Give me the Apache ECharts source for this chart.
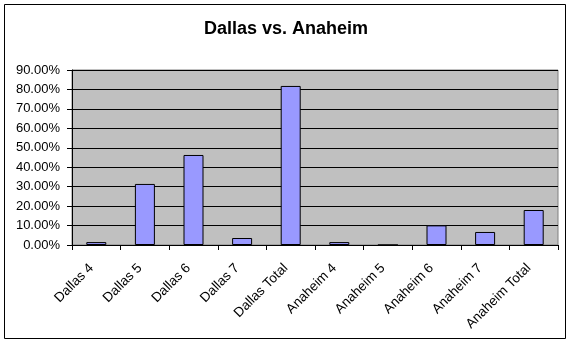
<!DOCTYPE html>
<html><head><meta charset="utf-8">
<script src="https://cdn.jsdelivr.net/npm/echarts@6/dist/echarts.min.js"></script>
<style>html,body{margin:0;padding:0;background:#fff}#c{width:572px;height:344px}</style>
</head><body><div id="c"></div>
<script>
const title = 'Dallas vs. Anaheim';
const categories = ['Dallas 4','Dallas 5','Dallas 6','Dallas 7','Dallas Total','Anaheim 4','Anaheim 5','Anaheim 6','Anaheim 7','Anaheim Total'];
const values = [0.015, 0.314, 0.463, 0.036, 0.818, 0.015, 0, 0.101, 0.067, 0.180];
const yTicks = [0, 0.1, 0.2, 0.3, 0.4, 0.5, 0.6, 0.7, 0.8, 0.9];

const chart = echarts.init(document.getElementById('c'), null, {renderer:'canvas'});
const font = 'Liberation Sans, Arial, sans-serif';
chart.setOption({
  animation:false,
  backgroundColor:'#fff',
  title:{text:title,left:'center',top:15,textStyle:{fontFamily:font,fontSize:18,fontWeight:'bold',color:'#000'}},
  graphic:[{type:'rect',shape:{x:4.5,y:4.5,width:561,height:334},style:{fill:null,stroke:'#000',lineWidth:1},silent:true,z:-1}],
  grid:{left:72,right:14,top:70,bottom:99,show:true,backgroundColor:'#C0C0C0',borderColor:'#808080',borderWidth:1},
  xAxis:{type:'category',data:categories,
    axisLine:{lineStyle:{color:'#000'}},
    axisTick:{show:true,length:5,lineStyle:{color:'#000'}},
    axisLabel:{rotate:45,margin:16,padding:[0,7,0,0],color:'#000',fontFamily:font,fontSize:13.5,interval:0}},
  yAxis:{type:'value',min:yTicks[0],max:yTicks[yTicks.length-1],interval:0.1,
    axisLine:{show:true,lineStyle:{color:'#000'}},
    axisTick:{show:true,length:5,lineStyle:{color:'#000'}},
    splitLine:{lineStyle:{color:'#000'}},
    axisLabel:{color:'#000',fontFamily:font,fontSize:13,margin:12,formatter:v=>(v*100).toFixed(2)+'%'}},
  series:[{type:'bar',data:values,barWidth:20,itemStyle:{color:'#9999FF',borderColor:'#000',borderWidth:1}}]
});
</script></body></html>
